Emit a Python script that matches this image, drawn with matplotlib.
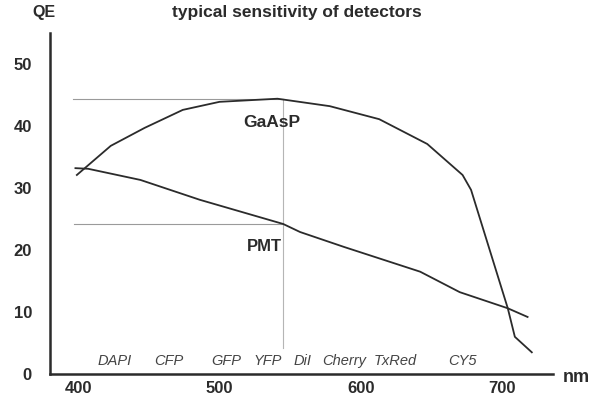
import matplotlib.pyplot as plt

# curves (nm, QE %)
gaasp_nm = [399, 423, 447, 474, 500, 541, 578, 613, 647, 672, 678, 704, 709, 721]
gaasp_qe = [32.1, 36.8, 39.7, 42.6, 43.9, 44.4, 43.2, 41.1, 37.1, 32.1, 29.7, 10.6, 6.0, 3.5]

pmt_nm = [398, 407, 444, 486, 545, 557, 588, 642, 670, 704, 718]
pmt_qe = [33.2, 33.1, 31.3, 28.1, 24.2, 22.9, 20.5, 16.5, 13.2, 10.6, 9.2]

# guide lines: peak of GaAsP, PMT at the same wavelength
guide_nm = 545
guide_start = 396
gaasp_peak = 44.4
pmt_at_guide = 24.2

dyes = ["DAPI", "CFP", "GFP", "YFP", "DiI", "Cherry", "TxRed", "CY5"]
dye_nm = [426, 464, 505, 534, 559, 588, 624, 672]

xticks = [400, 500, 600, 700]
yticks = [0, 10, 20, 30, 40, 50]

ink = "#2b2b2b"
plt.rcParams["font.family"] = ["Liberation Sans", "DejaVu Sans"]

fig = plt.figure(figsize=(5.9, 4.01), dpi=100)
ax = fig.add_axes([50 / 590, 27 / 401, 503 / 590, 341 / 401])
ax.set_xlim(380, 736)
ax.set_ylim(0, 55)

# thin gray guides
ax.plot([guide_start, guide_nm], [gaasp_peak, gaasp_peak], color="#9a9a9a", lw=0.8)
ax.plot([guide_start + 1, guide_nm], [pmt_at_guide, pmt_at_guide], color="#9a9a9a", lw=0.8)
ax.plot([guide_nm, guide_nm], [4.2, gaasp_peak], color="#b5b5b5", lw=0.8)

ax.plot(gaasp_nm, gaasp_qe, color=ink, lw=1.3)
ax.plot(pmt_nm, pmt_qe, color=ink, lw=1.3)

ax.text(537, 40.5, "GaAsP", ha="center", va="center", fontsize=12.5,
        fontweight="bold", color=ink)
ax.text(544, 20.6, "PMT", ha="right", va="center", fontsize=12,
        fontweight="bold", color=ink)

for name, x in zip(dyes, dye_nm):
    ax.text(x, 2.1, name, ha="center", va="center", fontsize=10.5,
            fontstyle="italic", color="#444444")

for s in ["top", "right"]:
    ax.spines[s].set_visible(False)
for s in ["left", "bottom"]:
    ax.spines[s].set_linewidth(1.8)
    ax.spines[s].set_color(ink)

ax.set_xticks(xticks)
ax.set_yticks(yticks)
ax.tick_params(length=0, labelsize=12, colors=ink)
ax.tick_params(axis="y", pad=13)
ax.tick_params(axis="x", pad=5)
for lab in ax.get_xticklabels() + ax.get_yticklabels():
    lab.set_fontweight("bold")

fig.text(44 / 590, 1 - 13 / 401, "QE", ha="center", va="center",
         fontsize=11.5, fontweight="bold", color=ink)
fig.text(297 / 590, 1 - 13 / 401, "typical sensitivity of detectors",
         ha="center", va="center", fontsize=12.5, fontweight="bold", color=ink)
fig.text(576 / 590, 1 - 378 / 401, "nm", ha="center", va="center",
         fontsize=13, fontweight="bold", color=ink)

fig.savefig("out.png", dpi=100)
